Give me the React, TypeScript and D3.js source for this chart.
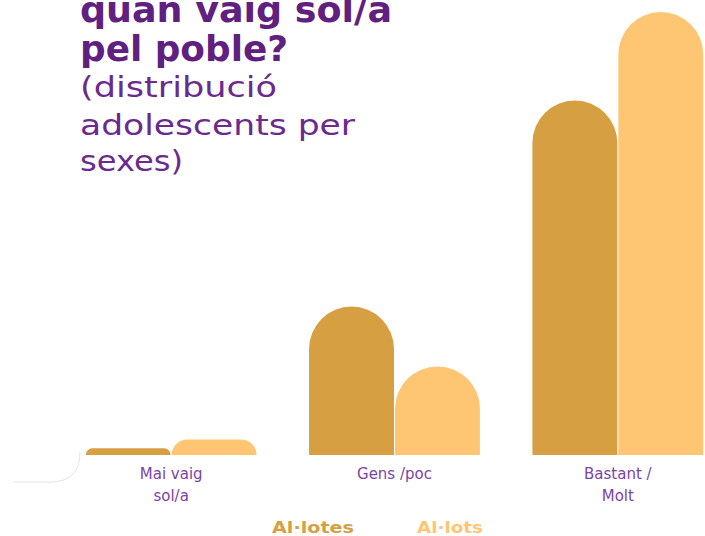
import React from "react";
import * as d3 from "d3";

const categories = ["Mai vaig sol/a", "Gens /poc", "Bastant / Molt"];
const categoryLines = [["Mai vaig", "sol/a"], ["Gens /poc"], ["Bastant /", "Molt"]];
const series = ["Al·lotes", "Al·lots"];
const allotes = [3, 67, 160];
const allots = [7, 40, 200];
const seriesColors = ["#d6a042", "#fec672"];
const titleLines = ["quan vaig sol/a", "pel poble?"];
const subtitleLines = ["(distribució", "adolescents per", "sexes)"];

const W = 705;
const H = 536;
const FONT = "'DejaVu Sans', 'Open Sans', sans-serif";

function barPath(x: number, w: number, top: number, base: number) {
  const h = base - top;
  const r = Math.max(0, Math.min(w / 2, h));
  return `M${x},${base}L${x},${top + r}A${r},${r} 0 0 1 ${x + r},${top}L${x + w - r},${top}A${r},${r} 0 0 1 ${x + w},${top + r}L${x + w},${base}Z`;
}

export default function App() {
  const x0 = d3
    .scaleBand<string>()
    .domain(categories)
    .range([59.5, 729.5])
    .paddingInner(0.235)
    .paddingOuter(0.1175);
  const x1 = d3.scaleBand<string>().domain(series).range([0, x0.bandwidth()]).paddingInner(0.012);
  const y = d3.scaleLinear().domain([0, 200]).range([455, 12]);
  const data = [allotes, allots];

  const titleLen = [312, 208];
  const subLen = [197, 275, 103];
  const subBase = [97, 135, 171];

  return (
    <svg
      width={W}
      height={H}
      style={{ position: "absolute", left: 0, top: 0, background: "#fff" }}
    >
      <path d="M80,452 Q80,482 50,482 L13,482" fill="none" stroke="#e4e4e4" strokeWidth={1} />
      {titleLines.map((t, i) => (
        <text
          key={t}
          x={80}
          y={22 + i * 38.5}
          fontFamily={FONT}
          fontWeight={700}
          fontSize={36}
          fill="#5f2080"
          textLength={titleLen[i]}
          lengthAdjust="spacingAndGlyphs"
        >
          {t}
        </text>
      ))}
      {subtitleLines.map((t, i) => (
        <text
          key={t}
          x={80}
          y={subBase[i]}
          fontFamily={FONT}
          fontSize={29}
          fill="#6a2a8e"
          textLength={subLen[i]}
          lengthAdjust="spacingAndGlyphs"
        >
          {t}
        </text>
      ))}
      {categories.map((c, ci) => (
        <g key={c} transform={`translate(${x0(c)},0)`}>
          {series.map((s, si) => (
            <path
              key={s}
              d={barPath(x1(s)!, x1.bandwidth(), y(data[si][ci]), y(0))}
              fill={seriesColors[si]}
            />
          ))}
          {categoryLines[ci].map((l, li) => (
            <text
              key={l}
              x={x0.bandwidth() / 2}
              y={479 + li * 22}
              textAnchor="middle"
              fontFamily={FONT}
              fontSize={15}
              fill="#7c44a5"
            >
              {l}
            </text>
          ))}
        </g>
      ))}
      {series.map((s, i) => (
        <text
          key={s}
          x={[272, 417][i]}
          y={533}
          fontFamily={FONT}
          fontWeight={700}
          fontSize={15}
          fill={seriesColors[i]}
          textLength={[82, 66][i]}
          lengthAdjust="spacingAndGlyphs"
        >
          {s}
        </text>
      ))}
    </svg>
  );
}
